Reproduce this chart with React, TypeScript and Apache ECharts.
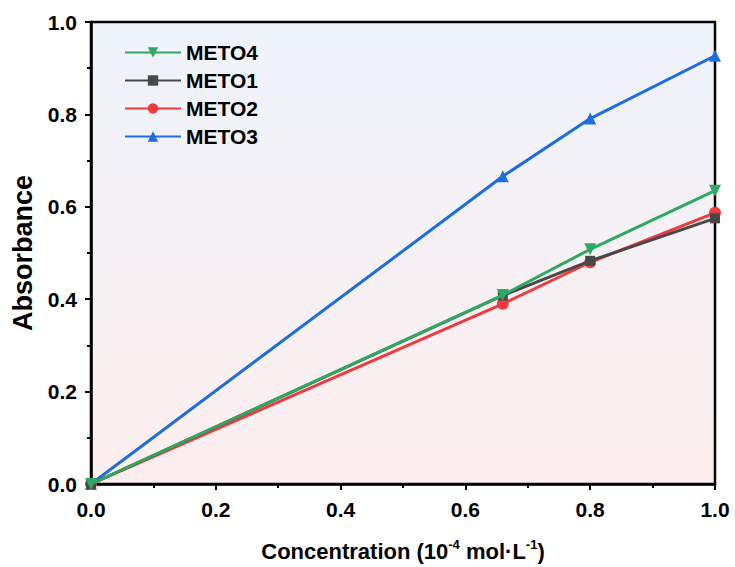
import React, { useEffect, useRef } from "react";
import * as echarts from "echarts";

const xValues = [0, 0.66, 0.8, 1.0];
const meto4 = [0, 0.409, 0.508, 0.635];
const meto1 = [0, 0.408, 0.483, 0.575];
const meto2 = [0, 0.39, 0.48, 0.587];
const meto3 = [0, 0.666, 0.791, 0.927];
const seriesNames = ["METO4", "METO1", "METO2", "METO3"];
const seriesColors = ["#2fa862", "#484848", "#ef3b3b", "#1d6de0"];
const seriesSymbols = [
  "path://M0,0 L10,0 L5,9 Z",
  "rect",
  "circle",
  "triangle",
];
const seriesData = [meto4, meto1, meto2, meto3];

export default function App() {
  const ref = useRef<HTMLDivElement>(null);
  useEffect(() => {
    if (!ref.current) return;
    const chart = echarts.init(ref.current, undefined, { renderer: "svg" });
    const font = "Liberation Sans, Arial, sans-serif";
    chart.setOption({
      animation: false,
      legend: {
        orient: "vertical",
        left: 119,
        top: 37,
        itemWidth: 56,
        itemHeight: 13,
        itemGap: 7,
        data: seriesNames,
        textStyle: { fontFamily: font, fontWeight: "bold", fontSize: 21, color: "#000" },
      },
      grid: {
        left: 91,
        right: 20,
        top: 22,
        bottom: 82,
        show: true,
        borderColor: "#000",
        borderWidth: 2.5,
        backgroundColor: new echarts.graphic.LinearGradient(0, 0, 0, 1, [
          { offset: 0, color: "#eef3fb" },
          { offset: 1, color: "#fdeeee" },
        ]),
      },
      xAxis: {
        type: "value",
        min: 0,
        max: 1,
        interval: 0.2,
        name: "{a|Concentration (10}{s|-4}{a| mol·L}{s|-1}{a|)}",
        nameLocation: "middle",
        nameGap: 54,
        nameTextStyle: {
          rich: {
            a: { fontFamily: font, fontWeight: "bold", fontSize: 22, color: "#000", verticalAlign: "bottom", lineHeight: 24 },
            s: { fontFamily: font, fontWeight: "bold", fontSize: 13, color: "#000", verticalAlign: "top", lineHeight: 24, padding: [0, 0, 10, 0] },
          },
        },
        axisLine: { lineStyle: { color: "#000", width: 2.5 } },
        axisTick: { inside: false, length: 6, lineStyle: { color: "#000", width: 2 } },
        minorTick: { show: true, splitNumber: 2, length: 4, lineStyle: { color: "#000", width: 2 } },
        axisLabel: {
          margin: 15,
          fontFamily: font,
          fontWeight: "bold",
          fontSize: 21,
          color: "#000",
          formatter: (v: number) => v.toFixed(1),
        },
        splitLine: { show: false },
      },
      yAxis: {
        type: "value",
        min: 0,
        max: 1,
        interval: 0.2,
        name: "Absorbance",
        nameLocation: "middle",
        nameGap: 55,
        nameTextStyle: { fontFamily: font, fontWeight: "bold", fontSize: 27, color: "#000" },
        axisLine: { lineStyle: { color: "#000", width: 2.5 } },
        axisTick: { inside: false, length: 6, lineStyle: { color: "#000", width: 2 } },
        minorTick: { show: true, splitNumber: 2, length: 4, lineStyle: { color: "#000", width: 2 } },
        axisLabel: {
          margin: 14,
          fontFamily: font,
          fontWeight: "bold",
          fontSize: 21,
          color: "#000",
          formatter: (v: number) => v.toFixed(1),
        },
        splitLine: { show: false },
      },
      series: seriesNames.map((name, i) => ({
        name,
        type: "line",
        data: xValues.map((x, j) => [x, seriesData[i][j]]),
        symbol: seriesSymbols[i],
        symbolSize: i === 1 ? 10 : 12,
        showSymbol: true,
        itemStyle: { color: seriesColors[i] },
        lineStyle: { color: seriesColors[i], width: 3 },
        z: 10 - i,
      })),
    });
    return () => chart.dispose();
  }, []);
  return <div ref={ref} style={{ width: 735, height: 567, position: "absolute", left: 0, top: 0 }} />;
}
